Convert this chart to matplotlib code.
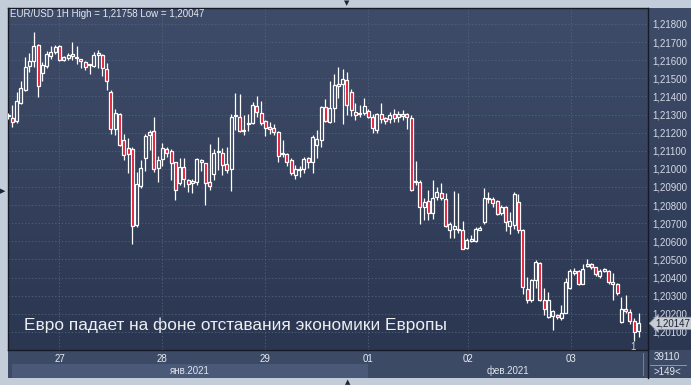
import numpy as np
import matplotlib.pyplot as plt
from matplotlib.colors import LinearSegmentedColormap
from matplotlib.patches import Rectangle

# hourly EUR/USD candles
opens = [1.21290, 1.21278, 1.21265, 1.21363, 1.21437, 1.21566, 1.21597, 1.21683, 1.21531, 1.21569,
         1.21624, 1.21645, 1.21676, 1.21601, 1.21612, 1.21623, 1.21612, 1.21608, 1.21589, 1.21573,
         1.21569, 1.21628, 1.21628, 1.21551, 1.21426, 1.21221, 1.21302, 1.21160, 1.21114, 1.21108,
         1.20690, 1.20908, 1.21059, 1.21186, 1.21210, 1.21003, 1.21053, 1.21110, 1.21099, 1.21036,
         1.20924, 1.21009, 1.20937, 1.20922, 1.20926, 1.21051, 1.21031, 1.20926, 1.20972, 1.21093,
         1.21086, 1.21025, 1.20997, 1.21290, 1.21288, 1.21215, 1.21248, 1.21251, 1.21347, 1.21310,
         1.21264, 1.21229, 1.21224, 1.21205, 1.21080, 1.21080, 1.21049, 1.20966, 1.20994, 1.20997,
         1.21058, 1.21036, 1.21132, 1.21159, 1.21340, 1.21261, 1.21338, 1.21460, 1.21467, 1.21489,
         1.21423, 1.21316, 1.21303, 1.21307, 1.21321, 1.21288, 1.21215, 1.21301, 1.21279, 1.21273,
         1.21301, 1.21284, 1.21294, 1.21301, 1.21279, 1.20925, 1.20925, 1.20787, 1.20822, 1.20758,
         1.20845, 1.20869, 1.20836, 1.20661, 1.20670, 1.20666, 1.20661, 1.20563, 1.20602, 1.20602,
         1.20664, 1.20707, 1.20832, 1.20836, 1.20821, 1.20756, 1.20790, 1.20683, 1.20688, 1.20817,
         1.20664, 1.20338, 1.20274, 1.20386, 1.20478, 1.20275, 1.20183, 1.20189, 1.20191, 1.20174,
         1.20207, 1.20340, 1.20426, 1.20437, 1.20367, 1.20465, 1.20472, 1.20456, 1.20410, 1.20437,
         1.20437, 1.20366, 1.20367, 1.20156, 1.20229, 1.20211, 1.20159, 1.20106]
highs = [1.21310, 1.21352, 1.21422, 1.21486, 1.21615, 1.21637, 1.21758, 1.21690, 1.21588, 1.21652,
         1.21680, 1.21685, 1.21683, 1.21624, 1.21639, 1.21698, 1.21676, 1.21608, 1.21597, 1.21580,
         1.21643, 1.21656, 1.21634, 1.21582, 1.21435, 1.21329, 1.21311, 1.21191, 1.21169, 1.21123,
         1.20981, 1.21049, 1.21193, 1.21215, 1.21289, 1.21071, 1.21141, 1.21119, 1.21110, 1.21040,
         1.21059, 1.21059, 1.20943, 1.20943, 1.21059, 1.21055, 1.21035, 1.21136, 1.21108, 1.21176,
         1.21113, 1.21119, 1.21303, 1.21417, 1.21413, 1.21297, 1.21301, 1.21371, 1.21402, 1.21375,
         1.21270, 1.21260, 1.21248, 1.21209, 1.21159, 1.21086, 1.21062, 1.21021, 1.21016, 1.21067,
         1.21067, 1.21187, 1.21215, 1.21347, 1.21384, 1.21487, 1.21524, 1.21564, 1.21552, 1.21537,
         1.21441, 1.21362, 1.21353, 1.21393, 1.21329, 1.21301, 1.21307, 1.21366, 1.21288, 1.21316,
         1.21329, 1.21321, 1.21325, 1.21307, 1.21297, 1.21043, 1.20938, 1.20837, 1.20883, 1.20937,
         1.20900, 1.20920, 1.20869, 1.20707, 1.20880, 1.20867, 1.20710, 1.20620, 1.20637, 1.20679,
         1.20683, 1.20896, 1.20872, 1.20845, 1.20826, 1.20799, 1.20793, 1.20762, 1.20872, 1.20863,
         1.20670, 1.20403, 1.20393, 1.20496, 1.20487, 1.20340, 1.20321, 1.20220, 1.20196, 1.20248,
         1.20395, 1.20447, 1.20450, 1.20441, 1.20474, 1.20500, 1.20478, 1.20459, 1.20445, 1.20452,
         1.20441, 1.20423, 1.20371, 1.20294, 1.20303, 1.20229, 1.20174, 1.20207]
lows = [1.21275, 1.21229, 1.21251, 1.21357, 1.21431, 1.21536, 1.21564, 1.21398, 1.21486, 1.21556,
        1.21606, 1.21634, 1.21593, 1.21597, 1.21602, 1.21602, 1.21578, 1.21555, 1.21547, 1.21523,
        1.21560, 1.21556, 1.21514, 1.21437, 1.21192, 1.21187, 1.21125, 1.21049, 1.20979, 1.20583,
        1.20681, 1.20893, 1.20990, 1.21105, 1.20985, 1.20930, 1.21016, 1.21068, 1.20939, 1.20828,
        1.20911, 1.20902, 1.20874, 1.20869, 1.20911, 1.20990, 1.20801, 1.20884, 1.20939, 1.20991,
        1.20966, 1.20979, 1.20879, 1.21215, 1.21205, 1.21187, 1.21209, 1.21248, 1.21288, 1.21242,
        1.21181, 1.21192, 1.21187, 1.21036, 1.21067, 1.21016, 1.20966, 1.20942, 1.20957, 1.20979,
        1.21003, 1.20975, 1.21058, 1.21119, 1.21261, 1.21255, 1.21261, 1.21393, 1.21246, 1.21297,
        1.21294, 1.21270, 1.21285, 1.21297, 1.21279, 1.21200, 1.21200, 1.21251, 1.21246, 1.21251,
        1.21261, 1.21261, 1.21270, 1.21218, 1.20880, 1.20911, 1.20693, 1.20717, 1.20717, 1.20725,
        1.20830, 1.20826, 1.20680, 1.20620, 1.20620, 1.20646, 1.20556, 1.20559, 1.20596, 1.20596,
        1.20661, 1.20697, 1.20812, 1.20790, 1.20747, 1.20744, 1.20657, 1.20642, 1.20670, 1.20646,
        1.20311, 1.20259, 1.20265, 1.20345, 1.20270, 1.20192, 1.20174, 1.20109, 1.20170, 1.20168,
        1.20202, 1.20334, 1.20413, 1.20358, 1.20362, 1.20459, 1.20447, 1.20410, 1.20395, 1.20430,
        1.20367, 1.20275, 1.20303, 1.20150, 1.20202, 1.20146, 1.20047, 1.20073]
closes = [1.21295, 1.21260, 1.21372, 1.21446, 1.21564, 1.21593, 1.21676, 1.21459, 1.21573, 1.21634,
          1.21643, 1.21671, 1.21601, 1.21615, 1.21628, 1.21634, 1.21617, 1.21594, 1.21562, 1.21576,
          1.21628, 1.21637, 1.21555, 1.21483, 1.21219, 1.21307, 1.21132, 1.21077, 1.21081, 1.20685,
          1.20915, 1.21003, 1.21182, 1.21202, 1.21000, 1.21049, 1.21114, 1.21086, 1.21031, 1.20884,
          1.21013, 1.20943, 1.20915, 1.20931, 1.21053, 1.21040, 1.20924, 1.20908, 1.21086, 1.21100,
          1.21021, 1.20994, 1.21285, 1.21298, 1.21211, 1.21210, 1.21255, 1.21353, 1.21312, 1.21255,
          1.21224, 1.21218, 1.21205, 1.21073, 1.21089, 1.21040, 1.20975, 1.21000, 1.20997, 1.21053,
          1.21040, 1.21174, 1.21165, 1.21343, 1.21266, 1.21334, 1.21463, 1.21469, 1.21494, 1.21353,
          1.21325, 1.21297, 1.21310, 1.21349, 1.21288, 1.21224, 1.21301, 1.21273, 1.21266, 1.21297,
          1.21279, 1.21301, 1.21303, 1.21284, 1.20883, 1.20931, 1.20791, 1.20815, 1.20754, 1.20841,
          1.20872, 1.20841, 1.20683, 1.20697, 1.20686, 1.20663, 1.20559, 1.20605, 1.20615, 1.20670,
          1.20675, 1.20841, 1.20838, 1.20812, 1.20753, 1.20790, 1.20707, 1.20710, 1.20863, 1.20664,
          1.20347, 1.20277, 1.20384, 1.20487, 1.20275, 1.20229, 1.20275, 1.20214, 1.20180, 1.20202,
          1.20373, 1.20437, 1.20437, 1.20362, 1.20447, 1.20476, 1.20459, 1.20417, 1.20436, 1.20445,
          1.20373, 1.20373, 1.20316, 1.20224, 1.20215, 1.20161, 1.20100, 1.20147]

day_pos = [12, 36, 60, 84, 107.3, 131.3]
day_labels = ['27', '28', '29', '01', '02', '03']
months = ['янв.2021', 'фев.2021']
month_spans = [(1, 84), (84, 149.2)]
price_ticks = [1.201 + 0.001 * k for k in range(18)]
last_price = 1.20147

o = np.array(opens); h = np.array(highs); l = np.array(lows); c = np.array(closes)
x = np.arange(len(o))
up = c >= o

plt.rcParams['font.family'] = ['Liberation Sans', 'DejaVu Sans']

fig = plt.figure(figsize=(6.91, 3.85), dpi=100)
fig.patch.set_facecolor('#c3cdd9')
W, H = 691.0, 385.0

grad = LinearSegmentedColormap.from_list('bg', ['#3f4c69', '#2b3751'])
ylim = (1.20000, 1.21888)
xlim = (0, 149.2)

# right price panel and bottom date panel
rp = fig.add_axes([648 / W, 35 / H, 43 / W, 342 / H])
rp.imshow(np.linspace(0, 1, 256).reshape(-1, 1), cmap=grad, aspect='auto', extent=[0, 1, 0, 1])
rp.set_axis_off()
bp = fig.add_axes([8 / W, 7 / H, 683 / W, 28 / H])
bp.set_facecolor('#3d4a66')
bp.set_xticks([]); bp.set_yticks([])
for s in bp.spines.values():
    s.set_visible(False)

ax = fig.add_axes([8 / W, 35 / H, 640 / W, 342 / H])
ax.imshow(np.linspace(0, 1, 256).reshape(-1, 1), cmap=grad, aspect='auto',
          extent=[xlim[0], xlim[1], ylim[0], ylim[1]], zorder=0)
ax.set_xlim(xlim)
ax.set_ylim(ylim)

# grid (fine dotted)
for p in price_ticks:
    ax.axhline(p, color='#56647f', lw=0.6, ls=(0, (1.5, 2.5)), zorder=1)
for d in day_pos:
    ax.axvline(d, color='#56647f', lw=0.6, ls=(0, (1.5, 2.5)), zorder=1)

# candles
bw = 0.7
top = np.maximum(o, c); bot = np.minimum(o, c)
ax.vlines(x, top, h, color='white', lw=0.9, zorder=3)
ax.vlines(x, l, bot, color='white', lw=0.9, zorder=3)
body = np.where(np.abs(c - o) < 0.00004, 0.00004, top - bot)
ax.bar(x[up], body[up], bottom=bot[up], width=bw, facecolor='none', edgecolor='white', lw=0.9, zorder=4)
ax.bar(x[~up], body[~up], bottom=bot[~up], width=bw, facecolor='#e3102c', edgecolor='white', lw=0.9, zorder=4)

# axes
ax.yaxis.tick_right()
ax.set_yticks(price_ticks, [('%.5f' % p).replace('.', ',') for p in price_ticks])
ax.set_xticks(day_pos, day_labels)
ax.tick_params(axis='y', length=0, pad=3, labelsize=7, labelcolor='#d3dae6')
ax.tick_params(axis='x', length=0, pad=3, labelsize=7, labelcolor='#e6ebf2')
for s in ax.spines.values():
    s.set_color('#151a26')
    s.set_linewidth(1)

# month bands
tr = ax.get_xaxis_transform()
ax.add_patch(Rectangle((month_spans[0][0], -0.082), month_spans[0][1] - month_spans[0][0], 0.042,
                       transform=tr, clip_on=False, facecolor='#4a5977', edgecolor='none', zorder=0))
for (a, b), m in zip(month_spans, months):
    ax.text((a + b) / 2, -0.061, m, transform=tr, ha='center', va='center', fontsize=7, color='#dfe5ee')

ax.text(0.003, 0.982, 'EUR/USD 1H High = 1,21758 Low = 1,20047', transform=ax.transAxes,
        fontsize=7, color='#e4e8ef', va='center', ha='left', zorder=6)
ax.text(0.025, 0.073, 'Евро падает на фоне отставания экономики Европы', transform=ax.transAxes,
        fontsize=12.4, color='#eceef2', va='center', ha='left', zorder=6)
ax.text(145.8, 1.20015, '1', fontsize=7, color='#d0d6e0', ha='center', va='center', zorder=6)

ax.text(1.012, last_price, ('%.5f' % last_price).replace('.', ','), transform=ax.get_yaxis_transform(),
        fontsize=7, color='#1b2130', va='center', ha='left', zorder=10, clip_on=False,
        bbox=dict(boxstyle='larrow,pad=0.12', fc='#c9ced6', ec='#8e96a3', lw=0.5))

# bottom right counters
fig.text(667 / W, (385 - 357) / H, '39110', fontsize=7, color='#e2e7ee', ha='center', va='center')
fig.text(667 / W, (385 - 372) / H, '>149<', fontsize=7, color='#e2e7ee', ha='center', va='center')
fig.add_artist(plt.Line2D([650 / W, 686 / W], [(385 - 364.5) / H] * 2, color='#9aa4b4', lw=0.6))
fig.add_artist(plt.Line2D([643 / W, 643 / W], [(385 - 375) / H, (385 - 353) / H], color='#7f8aa0', lw=0.6))
fig.add_artist(plt.Line2D([648 / W, 648 / W], [7 / H, 35 / H], color='#151a26', lw=1))

# frame arrows
fig.text(347 / W, (385 - 3) / H, '▼', fontsize=5, color='#1c2436', ha='center', va='center', family='DejaVu Sans')
fig.text(3 / W, (385 - 191) / H, '▶', fontsize=5, color='#1c2436', ha='center', va='center', family='DejaVu Sans')
fig.text(348 / W, (385 - 382) / H, '▲', fontsize=5, color='#1c2436', ha='center', va='center', family='DejaVu Sans')

fig.savefig('out.png', dpi=100, facecolor=fig.get_facecolor())
